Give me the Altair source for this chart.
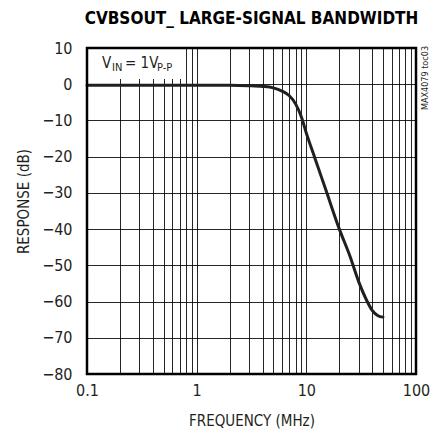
import altair as alt
import pandas as pd

# Large-signal frequency response of the CVBS output
freq_mhz = [0.1, 0.5, 1, 2, 3, 4, 5, 6, 7, 8, 9, 10, 12, 15, 20, 25, 30, 35, 40, 45, 50]
response_db = [-0.3, -0.3, -0.3, -0.3, -0.4, -0.6, -1.0, -1.9, -3.2, -5.5, -9.0, -13.5,
               -20.5, -29.0, -40.0, -47.5, -54.5, -59.3, -62.5, -63.9, -64.3]

# Log grid: every integer multiple within each decade
x_grid = [round(m * d, 4) for d in (0.1, 1, 10) for m in range(1, 10)] + [100]
x_labels = [0.1, 1, 10, 100]
y_ticks = [10, 0, -10, -20, -30, -40, -50, -60, -70, -80]

FONT = "DejaVu Sans Condensed, Roboto, sans-serif"
INK = "#231f20"
W, H = 329, 326

df = pd.DataFrame({"f": freq_mhz, "db": response_db})
one_row = pd.DataFrame({"k": [0]})  # single datum for annotation marks

x_enc = alt.X(
    "f:Q",
    scale=alt.Scale(type="log", domain=[0.1, 100], nice=False),
    axis=alt.Axis(
        values=x_grid,
        labelExpr="indexof(" + str(x_labels) + ", datum.value) >= 0 ? format(datum.value, '~g') : ''",
        title="FREQUENCY (MHz)",
        ticks=False, domain=False,
        grid=True, gridColor="#000000", gridWidth=1, gridOpacity=0.85,
        labelFont=FONT, labelFontSize=16, labelColor=INK,
        labelPadding=8, labelBaseline="top", labelFlush=False,
        titleFont=FONT, titleFontSize=15, titleFontWeight="normal", titleColor=INK,
        titleY=51, titleBaseline="alphabetic",
    ),
)
y_enc = alt.Y(
    "db:Q",
    scale=alt.Scale(domain=[-80, 10], nice=False),
    axis=alt.Axis(
        values=y_ticks,
        title="RESPONSE (dB)",
        ticks=False, domain=False,
        grid=True, gridColor="#000000", gridWidth=1, gridOpacity=0.85,
        labelFont=FONT, labelFontSize=16, labelColor=INK,
        labelPadding=15, labelBaseline="middle", labelFlush=False,
        titleFont=FONT, titleFontSize=15, titleFontWeight="normal", titleColor=INK,
        titleX=-59, titleY=153, titleBaseline="alphabetic", titleAngle=-90,
    ),
)

curve = alt.Chart(df).mark_line(
    color=INK, strokeWidth=3, strokeCap="round", interpolate="monotone"
).encode(x=x_enc, y=y_enc, order="f:Q")

# white panel behind the test-condition note
note_box = alt.Chart(one_row).mark_rect(fill="white").encode(
    x=alt.value(0), x2=alt.value(97), y=alt.value(0), y2=alt.value(31)
)

# heavy frame around the plot area, drawn above the grid
frame = alt.Chart(one_row).mark_rect(fill=None, fillOpacity=0, stroke="#000000", strokeWidth=2.5).encode(
    x=alt.value(0), x2=alt.value(W), y=alt.value(0), y2=alt.value(H)
)

def note(text, x, y, size):
    return alt.Chart(one_row).mark_text(
        text=text, font=FONT, fontSize=size, fontWeight="normal", color=INK,
        align="left", baseline="alphabetic"
    ).encode(x=alt.value(x), y=alt.value(y))

notes = (
    note("V", 15, 20, 15)
    + note("IN", 25, 23, 11)
    + note("= 1V", 38, 20, 15)
    + note("P-P", 70, 23, 11)
)

side_tag = alt.Chart(one_row).mark_text(
    text="MAX4079 toc03", font=FONT, fontSize=9, fontWeight="normal", color=INK, angle=270,
    align="center", baseline="middle"
).encode(x=alt.value(338), y=alt.value(30))

chart = (
    alt.layer(curve, note_box, frame, notes, side_tag)
    .properties(
        width=W, height=H,
        title=alt.TitleParams(
            "CVBSOUT_ LARGE-SIGNAL BANDWIDTH",
            font=FONT, fontSize=17, fontWeight="bold", color="#000000",
            anchor="middle", offset=12,
        ),
        autosize=alt.AutoSizeParams(type="none"),
        padding={"left": 87, "top": 48, "right": 21, "bottom": 60},
    )
    .configure_view(stroke=None)
    .configure(background="white")
)

chart.save("out.html", embed_options={"renderer": "svg", "actions": False})
